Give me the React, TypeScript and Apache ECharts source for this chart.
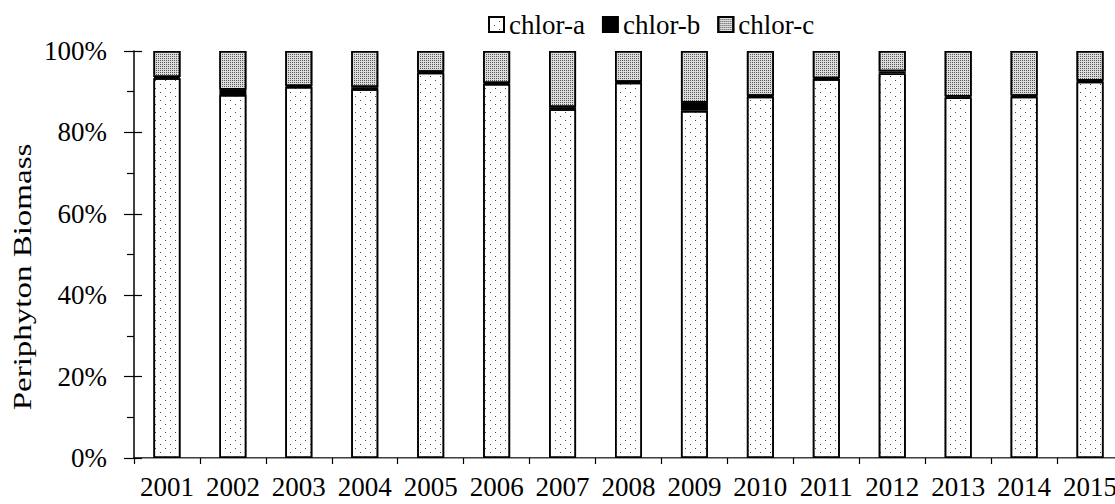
import React, { useEffect, useRef } from "react";
import * as echarts from "echarts";

const years = ["2001", "2002", "2003", "2004", "2005", "2006", "2007", "2008", "2009", "2010", "2011", "2012", "2013", "2014", "2015"];
const chlorA = [93.3, 89.2, 91.2, 90.6, 94.7, 91.9, 85.7, 92.2, 85.3, 88.8, 93.1, 94.5, 88.6, 88.8, 92.5];
const chlorB = [0.3, 1.3, 0.2, 0.5, 0.2, 0.2, 0.5, 0.2, 2.0, 0.2, 0.2, 0.5, 0.2, 0.2, 0.2];
const chlorC = [6.4, 9.5, 8.6, 8.9, 5.1, 7.9, 13.8, 7.6, 12.7, 11.0, 6.7, 5.0, 11.2, 11.0, 7.3];
const yTicks = [0, 20, 40, 60, 80, 100];
const axisTitle = "Periphyton Biomass";

const FONT = "Liberation Serif";

export default function App() {
  const ref = useRef<HTMLDivElement>(null);
  useEffect(() => {
    if (!ref.current) return;
    const chart = echarts.init(ref.current, undefined, { renderer: "svg" });
    const border = { borderColor: "#000", borderWidth: 1.6 };
    chart.setOption({
      animation: false,
      backgroundColor: "#fff",
      textStyle: { fontFamily: FONT, color: "#000" },
      legend: {
        left: 483,
        top: 6,
        icon: "rect",
        itemWidth: 15,
        itemHeight: 15,
        itemGap: 17,
        textStyle: { fontFamily: FONT, fontSize: 27, color: "#000" },
        data: ["chlor-a", "chlor-b", "chlor-c"],
      },
      grid: { left: 134, top: 51, right: 17, bottom: 46, containLabel: false },
      xAxis: [
        {
          type: "category",
          data: years,
          boundaryGap: true,
          axisLine: { lineStyle: { color: "#000", width: 1.5 } },
          axisTick: { show: true, interval: 0, length: 6, lineStyle: { color: "#000", width: 1.2 } },
          axisLabel: { interval: 0, margin: 15, fontFamily: FONT, fontSize: 27, color: "#000" },
          splitLine: { show: false },
        },
        {
          type: "category",
          data: years,
          position: "top",
          axisLine: { lineStyle: { color: "#999", width: 1 } },
          axisTick: { show: false },
          axisLabel: { show: false },
        },
      ],
      yAxis: [
        {
          type: "value",
          min: 0,
          max: 100,
          interval: 20,
          axisLine: { show: true, lineStyle: { color: "#000", width: 1.5 } },
          axisTick: { show: true, length: 10, lineStyle: { color: "#000", width: 1.2 } },
          minorTick: { show: true, splitNumber: 2, length: 7, lineStyle: { color: "#000", width: 1.2 } },
          axisLabel: {
            margin: 27,
            fontFamily: FONT,
            fontSize: 27,
            color: "#000",
            formatter: (v: number) => (yTicks.includes(v) ? v + "%" : ""),
          },
          splitLine: { show: false },
        },
        {
          type: "value",
          min: 0,
          max: 100,
          interval: 20,
          position: "left",
          axisLine: { show: false },
          axisTick: { show: true, inside: true, length: 8, lineStyle: { color: "#000", width: 1.2 } },
          axisLabel: { show: false },
          splitLine: { show: false },
        },
      ],
      graphic: [
        {
          type: "text",
          x: 22,
          y: 277,
          rotation: Math.PI / 2,
          scaleX: 1.32,
          style: {
            text: axisTitle,
            font: "25px " + FONT,
            fill: "#000",
            align: "center",
            verticalAlign: "middle",
          },
        },
      ],
      series: [
        {
          name: "chlor-a",
          type: "bar",
          stack: "t",
          barWidth: 27,
          data: chlorA,
          itemStyle: {
            color: "#fff",
            ...border,
            decal: {
              symbol: "rect",
              symbolSize: 1,
              color: "#444",
              dashArrayX: [[1, 9], [0, 5, 1, 4]],
              dashArrayY: [1, 3],
              rotation: 0,
            },
          },
        },
        {
          name: "chlor-b",
          type: "bar",
          stack: "t",
          barWidth: 27,
          data: chlorB,
          itemStyle: { color: "#000", ...border },
        },
        {
          name: "chlor-c",
          type: "bar",
          stack: "t",
          barWidth: 27,
          data: chlorC,
          itemStyle: {
            color: "#dcdcdc",
            ...border,
            decal: {
              symbol: "rect",
              symbolSize: 1,
              color: "#555",
              dashArrayX: [1, 1],
              dashArrayY: [1, 1],
              rotation: 0,
            },
          },
        },
      ],
    });
    return () => chart.dispose();
  }, []);
  return (
    <div style={{ position: "fixed", left: 0, top: 0, width: 1115, height: 504, overflow: "hidden", background: "#fff" }}>
      <div ref={ref} style={{ width: 1140, height: 504 }} />
    </div>
  );
}
